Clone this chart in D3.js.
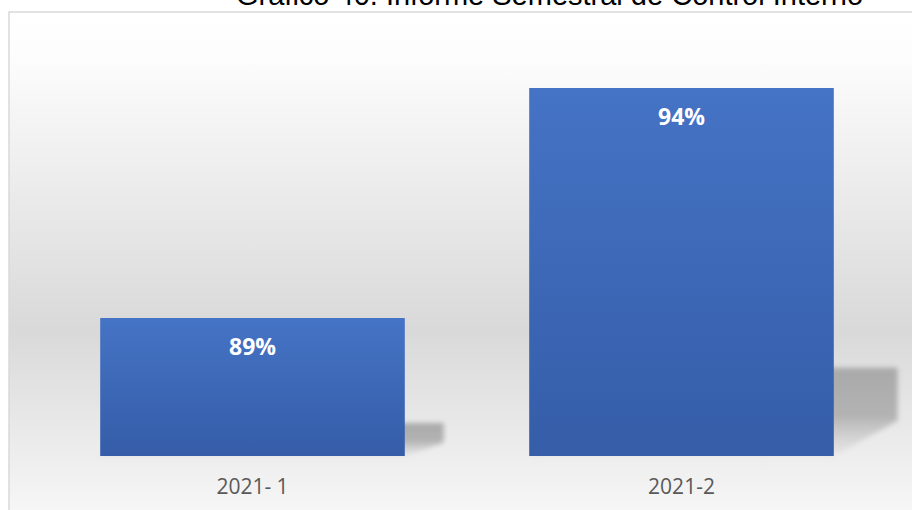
<!DOCTYPE html>
<html>
<head>
<meta charset="utf-8">
<script src="https://cdn.jsdelivr.net/npm/d3@7"></script>
<style>
  body { margin: 0; background: #fff; }
  svg { display: block; }
</style>
</head>
<body>
<div id="chart"></div>
<script>
// data
const categories = ["2021- 1", "2021-2"];
const values = [89, 94];
const titleText = "Gráfico 40. Informe Semestral de Control Interno";

const W = 912, H = 510;

const svg = d3.select("#chart").append("svg")
    .attr("width", W)
    .attr("height", H);

const defs = svg.append("defs");

// background gradient of the chart area
const bg = defs.append("linearGradient")
    .attr("id", "bgGrad")
    .attr("x1", 0).attr("y1", 0).attr("x2", 0).attr("y2", 1);
bg.append("stop").attr("offset", "0%").attr("stop-color", "#ffffff");
bg.append("stop").attr("offset", "8%").attr("stop-color", "#fdfdfd");
bg.append("stop").attr("offset", "60%").attr("stop-color", "#d9d9d9");
bg.append("stop").attr("offset", "82%").attr("stop-color", "#ececec");
bg.append("stop").attr("offset", "100%").attr("stop-color", "#fbfbfb");

// bar fill
const barGrad = defs.append("linearGradient")
    .attr("id", "barGrad")
    .attr("x1", 0).attr("y1", 0).attr("x2", 0).attr("y2", 1);
barGrad.append("stop").attr("offset", "0%").attr("stop-color", "#4573c5");
barGrad.append("stop").attr("offset", "100%").attr("stop-color", "#355da8");

// shadow fill + blur
const shGrad = defs.append("linearGradient")
    .attr("id", "shGrad")
    .attr("x1", 0).attr("y1", 0).attr("x2", 0).attr("y2", 1);
shGrad.append("stop").attr("offset", "0%").attr("stop-color", "#a9a9a9");
shGrad.append("stop").attr("offset", "55%").attr("stop-color", "#b3b3b3");
shGrad.append("stop").attr("offset", "100%").attr("stop-color", "#d5d5d5").attr("stop-opacity", 0.3);

defs.append("filter")
    .attr("id", "blur")
    .attr("x", "-20%").attr("y", "-20%").attr("width", "140%").attr("height", "140%")
    .append("feGaussianBlur")
    .attr("stdDeviation", 2.5);

// chart frame
svg.append("rect")
    .attr("x", 9)
    .attr("y", 12)
    .attr("width", W + 20)
    .attr("height", H + 20)
    .attr("fill", "url(#bgGrad)")
    .attr("stroke", "#d9d9d9")
    .attr("stroke-width", 1.5);

// title (cut off by the top of the picture, as in the original)
svg.append("text")
    .attr("x", 236)
    .attr("y", 5)
    .attr("font-family", "Liberation Sans, Arial, sans-serif")
    .attr("font-size", 29)
    .attr("fill", "#000")
    .text(titleText);

// scales
const x = d3.scaleBand()
    .domain(categories)
    .range([38, 896])
    .paddingInner(0.29)
    .paddingOuter(0.145);

const y = d3.scaleLinear()
    .domain([86, 95])
    .range([456, 42]);

const base = y.range()[0];

// perspective shadows
const shadows = svg.append("g").attr("filter", "url(#blur)");
categories.forEach(function (c, i) {
    let x0 = x(c), x1 = x(c) + x.bandwidth();
    let h = base - y(values[i]);
    let sh = h * 0.24;
    let shift = 24 + sh * 0.45;
    let pts = [
        [x0, base],
        [x1, base],
        [x1 + shift, base - sh * 0.4],
        [x1 + shift, base - sh],
        [x0 + shift, base - sh]
    ];
    shadows.append("polygon")
        .attr("points", pts.map(p => p.join(",")).join(" "))
        .attr("fill", "url(#shGrad)");
});

// bars
svg.selectAll(".bar")
    .data(values)
    .enter()
    .append("rect")
    .attr("class", "bar")
    .attr("x", (d, i) => x(categories[i]))
    .attr("y", d => y(d))
    .attr("width", x.bandwidth())
    .attr("height", d => base - y(d))
    .attr("fill", "url(#barGrad)");

// value labels
svg.selectAll(".val")
    .data(values)
    .enter()
    .append("text")
    .attr("class", "val")
    .attr("x", (d, i) => x(categories[i]) + x.bandwidth() / 2)
    .attr("y", d => y(d) + 37)
    .attr("text-anchor", "middle")
    .attr("font-family", "Open Sans, sans-serif")
    .attr("font-weight", "bold")
    .attr("font-size", 23)
    .attr("fill", "#ffffff")
    .text(d => d + "%");

// category axis
const xAxis = svg.append("g")
    .attr("transform", "translate(0," + base + ")")
    .call(d3.axisBottom(x).tickSize(0).tickPadding(38));
xAxis.select(".domain").remove();
xAxis.selectAll("text")
    .attr("font-family", "Open Sans, sans-serif")
    .attr("font-size", 21)
    .attr("fill", "#595959")
    .attr("dy", "0")
    .style("white-space", "pre");
</script>
</body>
</html>
